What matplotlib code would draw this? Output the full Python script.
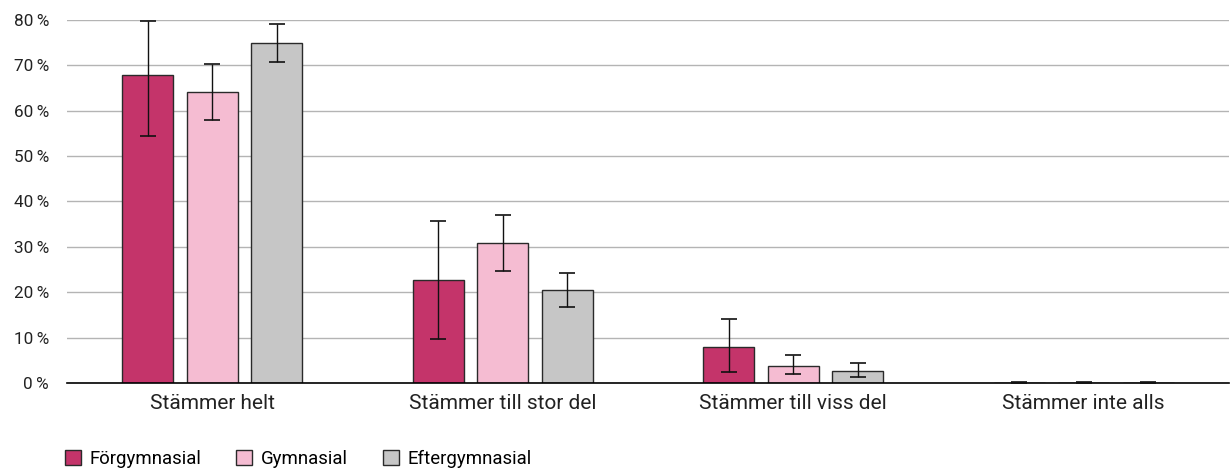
import matplotlib
matplotlib.use("Agg")
import matplotlib.pyplot as plt
import numpy as np

plt.rcParams['font.family'] = ['Roboto', 'DejaVu Sans']

categories = ["Stämmer helt", "Stämmer till stor del", "Stämmer till viss del", "Stämmer inte alls"]
series_names = ["Förgymnasial", "Gymnasial", "Eftergymnasial"]
forgymnasial = [67.9, 22.7, 7.9, 0.0]
forgymnasial_lo = [54.5, 9.8, 2.4, 0.0]
forgymnasial_hi = [79.8, 35.6, 14.0, 0.3]
gymnasial = [64.1, 30.9, 3.7, 0.0]
gymnasial_lo = [58.0, 24.7, 1.9, 0.0]
gymnasial_hi = [70.3, 37.0, 6.2, 0.3]
eftergymnasial = [74.9, 20.5, 2.6, 0.0]
eftergymnasial_lo = [70.8, 16.7, 1.3, 0.0]
eftergymnasial_hi = [79.2, 24.3, 4.5, 0.3]
colors = ["#C4346A", "#F5BCD2", "#C6C6C6"]
yticks = [0, 10, 20, 30, 40, 50, 60, 70, 80]

fig = plt.figure(figsize=(12.31, 4.72), dpi=100)
ax = fig.add_axes([67 / 1231, 1 - 383 / 472, (1229 - 67) / 1231, (383 - 20) / 472])

x = np.arange(len(categories))
width = 0.176
offsets = [-0.222, 0.0, 0.222]
vals = [forgymnasial, gymnasial, eftergymnasial]
los = [forgymnasial_lo, gymnasial_lo, eftergymnasial_lo]
his = [forgymnasial_hi, gymnasial_hi, eftergymnasial_hi]

for i in range(3):
    v = np.array(vals[i])
    err = [v - np.array(los[i]), np.array(his[i]) - v]
    ax.bar(x + offsets[i], v, width, color=colors[i], edgecolor="#2a2a2a",
           linewidth=1, label=series_names[i], zorder=3)
    ax.errorbar(x + offsets[i], v, yerr=err, fmt="none", ecolor="#111111",
                elinewidth=1, capsize=5.8, capthick=1.2, zorder=6)

ax.set_xlim(-0.5, len(categories) - 0.5)
ax.set_ylim(0, 80)
ax.set_yticks(yticks)
ax.set_yticklabels([f"{t}\u2009%" for t in yticks], fontsize=12.3, color="#222222")
ax.set_xticks(x)
ax.set_xticklabels(categories, fontsize=15, color="#222222")
ax.tick_params(axis="both", length=0)
ax.tick_params(axis="x", pad=8)
ax.tick_params(axis="y", pad=13)
ax.yaxis.grid(True, color="#b4b4b4", linewidth=1, zorder=0)
for s in ["top", "right", "left"]:
    ax.spines[s].set_visible(False)
ax.spines["bottom"].set_color("black")
ax.spines["bottom"].set_linewidth(1.2)
ax.spines["bottom"].set_zorder(5)

fig.legend(loc="lower left", bbox_to_anchor=(0.042, -0.019), ncol=3, frameon=False,
           fontsize=13.4, handlelength=0.86, handleheight=0.86, columnspacing=1.9,
           handletextpad=0.45, borderaxespad=0.3)

fig.savefig("out.png", dpi=100)
